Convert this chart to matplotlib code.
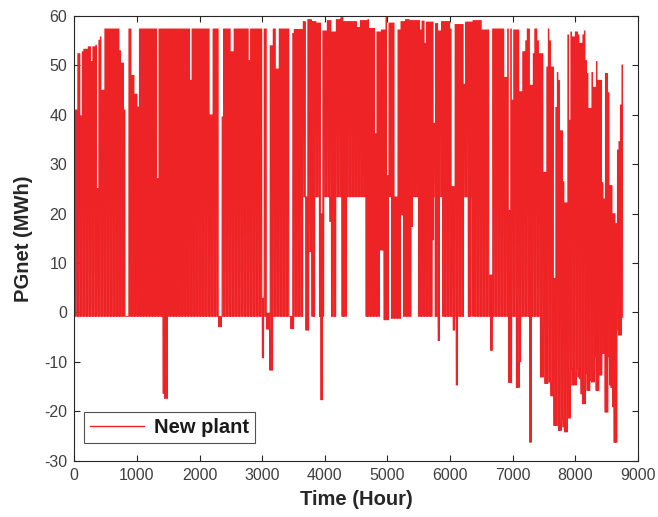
import numpy as np
import matplotlib
matplotlib.use("Agg")
import matplotlib.pyplot as plt

# ---------------- data ----------------
n_hours = 8760
initial_value = -29.6          # first hourly value (MWh)

# daytime peak level: piecewise-constant, (start hour, level in MWh)
peak_start = [0, 37, 100, 125, 145, 200, 265, 290, 320, 355, 380, 410, 445, 470,
              730, 755, 790, 815, 850, 870, 925, 950, 975, 1000, 1010, 1035,
              1325, 1350, 1850, 1875, 2170, 2195, 2310, 2345, 2365, 2505, 2530,
              2785, 2810, 2995, 3025, 3080, 3105, 3120, 3160, 3225, 3250,
              3450, 3478, 3500, 3632, 3696, 3722, 3800, 3871, 3940, 3965, 4031,
              4110, 4164, 4244, 4297, 4510, 4563, 4669, 4722, 4795, 4829, 4882,
              4962, 4995, 5020, 5120, 5148, 5201, 5281, 5361, 5520, 5535, 5600,
              5620, 5735, 5761, 5815, 5841, 6001, 6027, 6070, 6214, 6240, 6347,
              6506, 6640, 6661, 6879, 6905, 6940, 6964, 6980, 7000, 7118, 7145,
              7189, 7216, 7279, 7306, 7333, 7402, 7423, 7492, 7519, 7545, 7599,
              7625, 7660, 7680, 7705, 7732, 7758, 7811, 7838, 7865, 7891, 7918,
              7944, 7998, 8051, 8077, 8104, 8131, 8157, 8184, 8221, 8253, 8290,
              8317, 8370, 8434, 8450, 8476, 8503, 8530, 8556, 8583, 8609, 8636,
              8663, 8689, 8712, 8736]
peak_level = [41.0, 52.4, 39.8, 52.8, 53.3, 53.8, 50.8, 53.8, 54.1, 25.1, 55.1, 55.8, 45.0, 57.4,
              53.0, 50.5, 41.0, -0.8, 52.4, 57.4, 48.0, 57.4, 44.2, 57.4, 41.6, 57.4,
              27.1, 57.4, 47.0, 57.4, 40.0, 57.4, -0.8, 39.6, 57.4, 52.8, 57.4,
              51.0, 57.4, 2.9, 57.4, -0.1, 57.4, 54.0, 57.4, 49.3, 57.4,
              -0.8, 56.5, 57.3, 58.9, 23.4, 59.3, 58.9, 58.6, 20.0, 57.0, 59.1,
              56.8, 59.3, 59.7, 58.9, 57.7, 59.1, 59.3, 57.5, 36.2, 56.8, 57.2,
              59.7, 27.7, 58.6, 23.4, 57.2, 58.9, 59.3, 59.1, 57.2, 59.0, 54.5,
              58.8, 38.3, 58.5, 57.0, 58.9, 57.4, 25.5, 58.3, 46.2, 58.8, 59.1,
              57.2, 7.6, 57.4, 47.6, 57.4, 20.7, 57.4, 43.0, 57.2, 44.7, 52.8,
              55.0, 57.4, 46.0, 52.4, 57.4, 55.0, 52.4, 28.4, 49.7, 57.4, 55.0,
              49.7, 6.9, 41.5, 48.6, 47.0, 36.8, 26.5, 22.2, 56.2, 38.9, 56.8,
              55.8, 56.8, 56.2, 54.5, 56.2, 57.0, 51.0, 48.4, 41.3, 48.6, 45.6,
              50.8, 47.0, 26.3, 23.0, 48.4, 49.3, 44.5, 25.7, 44.9, 20.0, 18.0,
              32.9, 34.6, 42.0, 50.1]

# night-time base level: piecewise-constant, (start hour, level in MWh)
base_start = [0, 1420, 1440, 1455, 1470, 2315, 2345, 3000, 3015, 3088, 3100, 3130, 3145,
              3475, 3490, 3648, 3700, 3727, 3754, 3776, 3802, 3829, 3925, 3945, 3958,
              3978, 4096, 4122, 4165, 4281, 4335, 4660, 4707, 4723, 4856, 4946, 5010,
              5083, 5200, 5250, 5278, 5370, 5389, 5496, 5540, 5560, 5620, 5655, 5692,
              5735, 5761, 5810, 5822, 5894, 6001, 6027, 6050, 6062, 6100, 6112, 6214,
              6300, 6336, 6373, 6523, 6545, 6650, 6662, 6952, 6964, 7075, 7088, 7112,
              7124, 7282, 7295, 7460, 7472, 7492, 7519, 7545, 7572, 7599, 7625, 7652,
              7678, 7705, 7732, 7758, 7785, 7811, 7838, 7865, 7891, 7918, 7944, 7998,
              8024, 8051, 8077, 8104, 8131, 8157, 8184, 8210, 8237, 8264, 8290, 8317,
              8343, 8370, 8397, 8423, 8450, 8476, 8503, 8530, 8556, 8583, 8609, 8636,
              8663, 8689, 8716]
base_level = [-0.8, -16.4, -0.8, -17.4, -0.8, -2.9, -0.8, -9.2, -0.8, -3.4, -0.8, -11.7, -0.8,
              -3.3, -0.8, 23.4, -3.6, 23.4, 12.3, 23.4, -0.8, 23.4, -0.8, -17.7, -0.8,
              23.4, 18.4, -0.8, 23.4, -0.8, 23.4, -0.8, 14.3, -0.8, 12.6, -1.5, 23.4,
              -1.2, 19.7, 23.4, -0.8, 17.4, 23.4, -0.8, 23.4, -0.8, 23.4, -0.8, 14.7,
              23.4, -0.8, -5.7, 23.4, -0.8, 23.4, -0.8, -3.6, -0.8, -14.7, -0.8, 23.4,
              -0.8, 23.4, -0.8, 23.4, -0.8, -7.7, -0.8, -14.2, -0.8, -15.2, -0.8, -10.0,
              -0.8, -26.3, -0.8, -13.1, -0.8, -2.9, -14.4, -13.4, -14.1, -13.8, -16.9, -11.7,
              -22.9, -19.4, -23.9, -21.4, -11.7, -23.2, -24.2, -13.4, -21.4, -11.4, -14.7, -10.6,
              -11.4, -13.1, -13.4, -16.5, -18.5, -12.4, -15.8, -10.3, -13.8, -14.1, -6.3, -9.0,
              -15.8, -11.7, -12.7, -8.3, -0.8, -20.2, -9.0, -8.6, -14.7, -15.2, -19.1, -26.3,
              -3.6, -4.6, -1.0]

# daily operating window (hour of day): peak from day_on to day_off
day_on, day_off = 6, 18

# ---------------- build hourly series ----------------
hours = np.arange(n_hours)
peak_h = np.asarray(peak_level)[np.searchsorted(peak_start, hours, side="right") - 1]
base_h = np.asarray(base_level)[np.searchsorted(base_start, hours, side="right") - 1]
hod = hours % 24
is_day = (hod >= day_on) & (hod <= day_off)
n_days = n_hours // 24
ph = peak_h.reshape(n_days, 24)
bh = base_h.reshape(n_days, 24)
day_mask = is_day[:24]
peak_day = ph[:, day_mask].min(axis=1)
base_day = bh[:, ~day_mask].min(axis=1)
day_idx = hours // 24
pgnet = np.where(is_day, peak_day[day_idx], base_day[day_idx])
pgnet[0] = initial_value

# ---------------- plot ----------------
plt.rcParams['font.family'] = ['Liberation Sans', 'DejaVu Sans']
plt.rcParams['axes.unicode_minus'] = False
fig = plt.figure(figsize=(6.58, 5.17), dpi=100)
ax = fig.add_axes([0.1129, 0.1089, 0.8567, 0.8601])
red = '#EE2326'
ax.plot(hours, pgnet, color=red, linewidth=0.6, label='New plant')

ax.set_xlim(0, 9000)
ax.set_ylim(-30, 60)
ax.set_xticks(np.arange(0, 9001, 1000))
ax.set_yticks(np.arange(-30, 61, 10))
dark = '#262626'
for s in ax.spines.values():
    s.set_color(dark)
    s.set_linewidth(0.8)
ax.tick_params(direction='in', length=4, width=0.8, top=True, right=True,
               labelsize=11.5, color=dark, labelcolor='#404040', pad=5)
ax.set_xlabel('Time (Hour)', fontsize=14.5, fontweight='bold', color=dark, labelpad=5)
ax.set_ylabel('PGnet (MWh)', fontsize=14.5, fontweight='bold', color=dark, labelpad=8)

leg = ax.legend(loc='lower left', bbox_to_anchor=(0.017, 0.04),
                prop={'weight': 'bold', 'size': 14.5}, frameon=True, fancybox=False,
                edgecolor=dark, handlelength=2.7, borderaxespad=0, borderpad=0.3,
                handletextpad=0.5)
leg.get_frame().set_linewidth(0.8)
for t in leg.get_texts():
    t.set_color('#1a1a1a')
for l in leg.get_lines():
    l.set_linewidth(1.0)

fig.savefig('out.png', dpi=100)
